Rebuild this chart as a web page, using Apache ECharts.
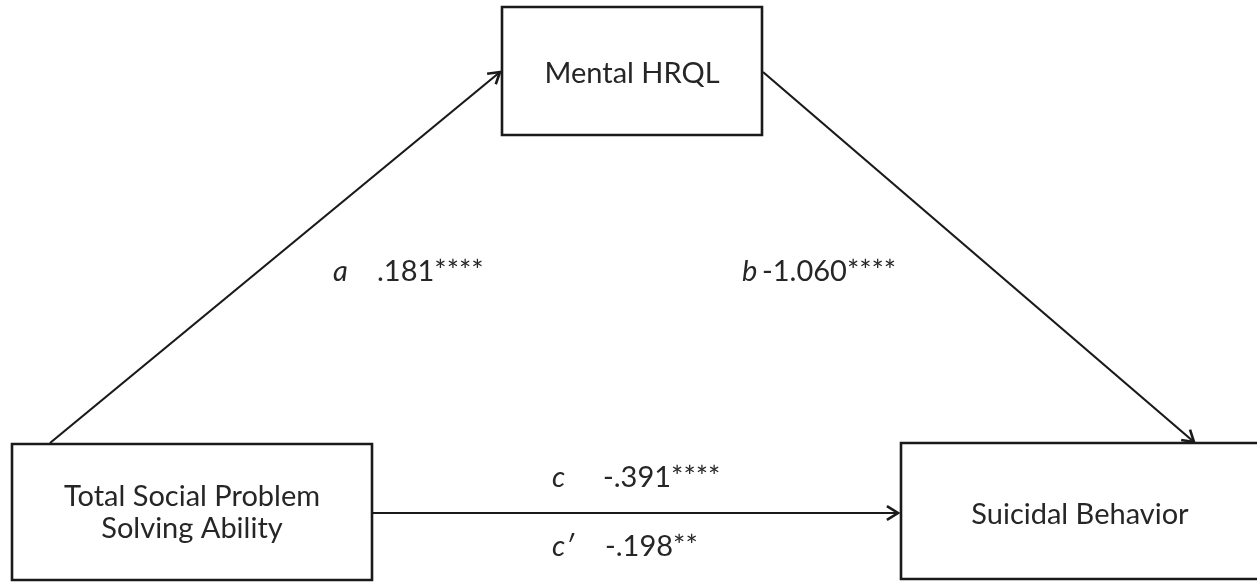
<!DOCTYPE html>
<html>
<head>
<meta charset="utf-8">
<script src="https://cdn.jsdelivr.net/npm/echarts@6/dist/echarts.min.js"></script>
<style>
html,body{margin:0;padding:0;background:#fff;}
#chart{width:1257px;height:582px;}
</style>
</head>
<body>
<div id="chart"></div>
<script>
// ---- data ----
const nodeNames = ['Total Social Problem\nSolving Ability', 'Mental HRQL', 'Suicidal Behavior'];
const edgeFrom = [0, 1, 0];
const edgeTo = [1, 2, 2];
const pathLetters = ['a', 'b', 'c', 'c\u2032'];
const pathCoefs = ['.181****', '-1.060****', '-.391****', '-.198**'];

// ---- layout (diagram coordinates, px on a 1257x582 plane) ----
const nodeBoxes = [[12, 444, 372, 580], [502, 7, 762, 135], [901, 443, 1259, 579]];
const nodeTextOffsetY = [1, 3, 4];
const edgeAnchors = [[50, 443, 500, 72], [763, 72, 1194, 442], [372, 513, 898, 513]];
const letterPos = [[333, 272], [742, 272], [552, 478], [552, 547]];
const coefPos = [[377, 272], [762, 272], [603, 478], [605, 547]];

const INK = '#1a1a1a';
const FONT = 'Lato, "Open Sans", sans-serif';
const FS = 29;

const chart = echarts.init(document.getElementById('chart'), null, {renderer: 'canvas'});

const boxData = nodeNames.map((n, i) => nodeBoxes[i].concat([i]));
const edgeData = edgeFrom.map((f, i) => edgeAnchors[i].concat([f, edgeTo[i]]));
const labelData = pathLetters.map((l, i) => [letterPos[i][0], letterPos[i][1], coefPos[i][0], coefPos[i][1], i]);

chart.setOption({
  animation: false,
  grid: {left: 0, right: 0, top: 0, bottom: 0},
  xAxis: {type: 'value', min: 0, max: 1257, show: false},
  yAxis: {type: 'value', min: 0, max: 582, inverse: true, show: false},
  series: [
    {
      type: 'custom',
      coordinateSystem: 'cartesian2d',
      clip: false,
      data: edgeData,
      renderItem: function (params, api) {
        const p0 = api.coord([api.value(0), api.value(1)]);
        const p1 = api.coord([api.value(2), api.value(3)]);
        const ang = Math.atan2(p1[1] - p0[1], p1[0] - p0[0]);
        const L = 13, h = 0.55;
        const a1 = [p1[0] - L * Math.cos(ang - h), p1[1] - L * Math.sin(ang - h)];
        const a2 = [p1[0] - L * Math.cos(ang + h), p1[1] - L * Math.sin(ang + h)];
        return {
          type: 'group',
          children: [
            {type: 'line', shape: {x1: p0[0], y1: p0[1], x2: p1[0], y2: p1[1]}, style: {stroke: INK, lineWidth: 2.2}},
            {type: 'polyline', shape: {points: [a1, p1, a2]}, style: {stroke: INK, lineWidth: 2.6, fill: null}}
          ]
        };
      }
    },
    {
      type: 'custom',
      coordinateSystem: 'cartesian2d',
      clip: false,
      data: boxData,
      renderItem: function (params, api) {
        const i = api.value(4);
        const p0 = api.coord([api.value(0), api.value(1)]);
        const p1 = api.coord([api.value(2), api.value(3)]);
        return {
          type: 'group',
          children: [
            {type: 'rect', shape: {x: p0[0], y: p0[1], width: p1[0] - p0[0], height: p1[1] - p0[1]},
              style: {fill: '#fff', stroke: INK, lineWidth: 2.6}},
            {type: 'text', x: (p0[0] + p1[0]) / 2, y: (p0[1] + p1[1]) / 2 + nodeTextOffsetY[i],
              style: {text: nodeNames[i], fill: '#262626', font: FS + 'px ' + FONT, align: 'center', verticalAlign: 'middle', lineHeight: 32}}
          ]
        };
      }
    },
    {
      type: 'custom',
      coordinateSystem: 'cartesian2d',
      clip: false,
      data: labelData,
      renderItem: function (params, api) {
        const i = api.value(4);
        const q0 = api.coord([api.value(0), api.value(1)]);
        const q1 = api.coord([api.value(2), api.value(3)]);
        return {
          type: 'group',
          children: [
            {type: 'text', x: q0[0], y: q0[1],
              style: {text: pathLetters[i], fill: '#262626', font: 'italic ' + FS + 'px ' + FONT, align: 'left', verticalAlign: 'middle'}},
            {type: 'text', x: q1[0], y: q1[1],
              style: {text: pathCoefs[i], fill: '#262626', font: FS + 'px ' + FONT, align: 'left', verticalAlign: 'middle'}}
          ]
        };
      }
    }
  ]
});
</script>
</body>
</html>
